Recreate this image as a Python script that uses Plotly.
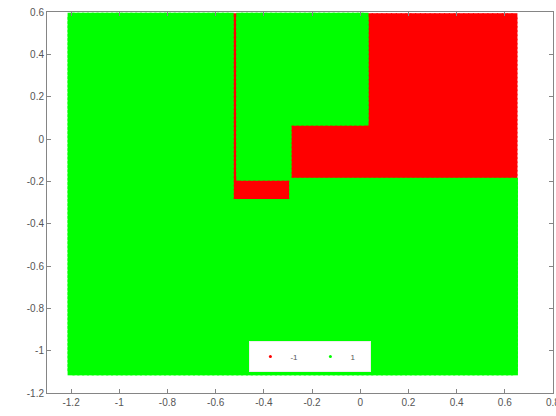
import numpy as np
import plotly.graph_objects as go

# Evaluation grid (decision-region sampling points)
grid_x = np.round(np.arange(-1.20, 0.6401, 0.02), 2)
grid_y = np.round(np.arange(-1.10, 0.5801, 0.02), 2)

# Red (-1) regions, as rectangles [x0, x1] x [y0, y1]
red_x0 = [-0.52, -0.52, -0.28, 0.04]
red_x1 = [-0.52, -0.30, 0.64, 0.64]
red_y0 = [-0.28, -0.28, -0.18, -0.18]
red_y1 = [0.58, -0.20, 0.06, 0.58]

class_names = ["-1", "1"]
class_colors = ["#ff0000", "#00ff00"]

x_ticks = [-1.2, -1.0, -0.8, -0.6, -0.4, -0.2, 0.0, 0.2, 0.4, 0.6, 0.8]
x_tick_text = ["-1.2", "-1", "-0.8", "-0.6", "-0.4", "-0.2", "0", "0.2", "0.4", "0.6", "0.8"]
y_ticks = [-1.2, -1.0, -0.8, -0.6, -0.4, -0.2, 0.0, 0.2, 0.4, 0.6]
y_tick_text = ["-1.2", "-1", "-0.8", "-0.6", "-0.4", "-0.2", "0", "0.2", "0.4", "0.6"]

X, Y = np.meshgrid(grid_x, grid_y)
X = X.ravel()
Y = Y.ravel()
is_red = np.zeros(X.shape, dtype=bool)
eps = 1e-9
for x0, x1, y0, y1 in zip(red_x0, red_x1, red_y0, red_y1):
    is_red |= (X >= x0 - eps) & (X <= x1 + eps) & (Y >= y0 - eps) & (Y <= y1 + eps)

fig = go.Figure()
fig.add_trace(go.Scatter(
    x=X[is_red], y=Y[is_red], mode="markers", showlegend=False,
    marker=dict(symbol="square", size=6, color=class_colors[0], line=dict(width=0)),
    hoverinfo="skip"))
fig.add_trace(go.Scatter(
    x=X[~is_red], y=Y[~is_red], mode="markers", showlegend=False,
    marker=dict(symbol="square", size=7, color=class_colors[1], line=dict(width=0)),
    hoverinfo="skip"))
for name, col in zip(class_names, class_colors):
    fig.add_trace(go.Scatter(
        x=[None], y=[None], mode="markers", name=name,
        marker=dict(symbol="circle", size=3, color=col)))

axis_common = dict(
    showgrid=False, zeroline=False, showline=True, linecolor="#858585", linewidth=1,
    mirror="ticks", ticks="inside", ticklen=4, tickcolor="#858585", automargin=False,
    tickfont=dict(family="Liberation Sans, Arial", size=10, color="#555555"),
)
fig.update_xaxes(range=[-1.3, 0.8001], tickvals=x_ticks, ticktext=x_tick_text,
                 ticklabeloverflow="allow", **axis_common)
fig.update_yaxes(range=[-1.2, 0.6], tickvals=y_ticks, ticktext=y_tick_text, **axis_common)

fig.update_layout(
    width=556, height=416,
    margin=dict(l=47, r=3, t=12, b=23),
    paper_bgcolor="white", plot_bgcolor="white",
    legend=dict(orientation="h", x=0.40, xanchor="left", y=0.055, yanchor="bottom",
                bgcolor="white", bordercolor="#eeeeee", borderwidth=1,
                font=dict(family="Liberation Sans, Arial", size=8, color="#555555"),
                itemwidth=30, tracegroupgap=0, entrywidth=15),
)

fig.write_html("out.html", config={"responsive": False, "displayModeBar": False},
               post_script="document.body.style.margin='0px';document.body.style.overflow='hidden';")
